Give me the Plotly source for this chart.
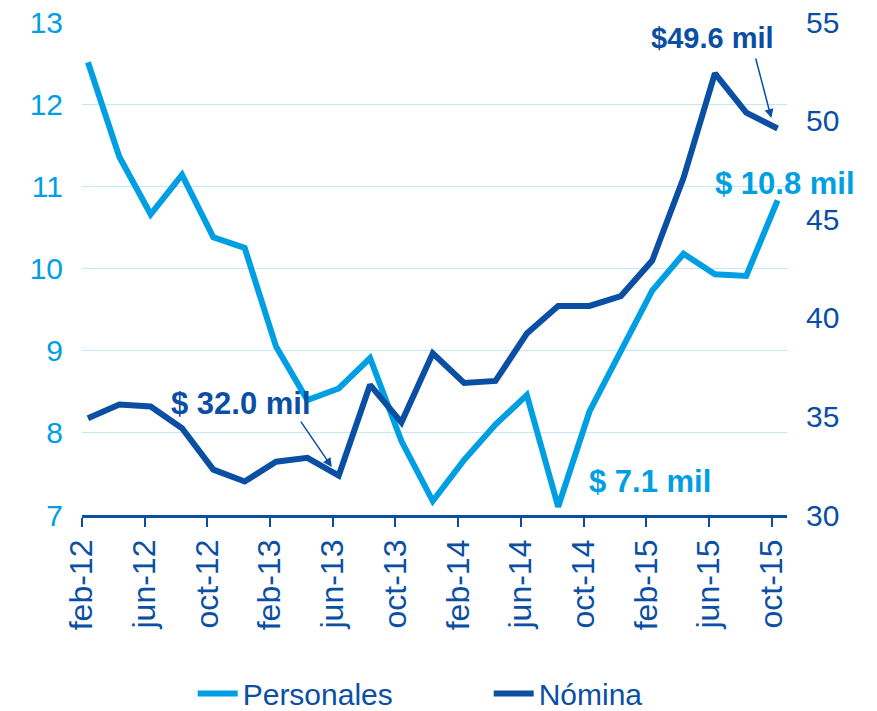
import plotly.graph_objects as go

categories = ["feb-12", "abr-12", "jun-12", "ago-12", "oct-12", "dic-12",
              "feb-13", "abr-13", "jun-13", "ago-13", "oct-13", "dic-13",
              "feb-14", "abr-14", "jun-14", "ago-14", "oct-14", "dic-14",
              "feb-15", "abr-15", "jun-15", "ago-15", "oct-15"]
personales = [12.51, 11.36, 10.66, 11.14, 10.38, 10.25, 9.05, 8.40, 8.54, 8.91,
              7.90, 7.17, 7.67, 8.10, 8.46, 7.10, 8.26, 8.99, 9.73, 10.18,
              9.93, 9.91, 10.83]
nomina = [34.9, 35.6, 35.5, 34.4, 32.3, 31.7, 32.7, 32.9, 32.0, 36.6,
          34.7, 38.2, 36.7, 36.8, 39.2, 40.6, 40.6, 41.1, 42.9, 47.1,
          52.4, 50.4, 49.6]
tick_labels = ["feb-12", "jun-12", "oct-12", "feb-13", "jun-13", "oct-13",
               "feb-14", "jun-14", "oct-14", "feb-15", "jun-15", "oct-15"]

LIGHT = "#009FE3"
DARK = "#0A4FA3"
GRID = "#C4E8F8"
FONT = "Liberation Sans, Arial, sans-serif"

xs = list(range(len(categories)))
tick_pos = [categories.index(t) - 0.19 for t in tick_labels]

fig = go.Figure()
fig.add_trace(go.Scatter(x=xs, y=personales, name="Personales", mode="lines",
                         line=dict(color=LIGHT, width=6), yaxis="y"))
fig.add_trace(go.Scatter(x=xs, y=nomina, name="Nómina", mode="lines",
                         line=dict(color=DARK, width=6), yaxis="y2"))

lbl = dict(xref="paper", yref="paper", showarrow=False, xanchor="center", yanchor="middle")
annotations = [
    dict(text="<b>$49.6 mil</b>", x=0.894, y=0.968,
         font=dict(size=29, color=DARK, family=FONT), **lbl),
    dict(text="<b>$ 10.8 mil</b>", x=0.997, y=0.673,
         font=dict(size=31, color=LIGHT, family=FONT), **lbl),
    dict(text="<b>$ 32.0 mil</b>", x=0.2255, y=0.227,
         font=dict(size=31, color=DARK, family=FONT), **lbl),
    dict(text="<b>$ 7.1 mil</b>", x=0.806, y=0.067,
         font=dict(size=31, color=LIGHT, family=FONT), **lbl),
    dict(text="", x=21.8, y=50.13, xref="x", yref="y2", ax=-16, ay=-61,
         showarrow=True, arrowhead=2, arrowsize=1.2, arrowwidth=1.5, arrowcolor=DARK),
    dict(text="", x=7.78, y=32.43, xref="x", yref="y2", ax=-32, ay=-47,
         showarrow=True, arrowhead=2, arrowsize=1.2, arrowwidth=1.5, arrowcolor=DARK),
]

fig.update_layout(
    width=877, height=711,
    margin=dict(l=82, r=90, t=22, b=196, autoexpand=False),
    paper_bgcolor="white", plot_bgcolor="white",
    font=dict(family=FONT, size=30, color=DARK),
    showlegend=True,
    legend=dict(orientation="h", x=0.157, xanchor="left", y=-0.362, yanchor="middle",
                font=dict(size=30, color=DARK), itemwidth=40, tracegroupgap=0,
                entrywidth=241, entrywidthmode="pixels", bgcolor="rgba(0,0,0,0)"),
    xaxis=dict(range=[-0.19, 22.3], tickmode="array", tickvals=tick_pos,
               ticktext=tick_labels, tickangle=-90, showgrid=False, zeroline=False,
               showline=True, linecolor=DARK, linewidth=2.5, automargin=False,
               ticks="outside", ticklen=9, tickwidth=2, tickcolor=DARK,
               ticklabeloverflow="allow",
               tickfont=dict(size=32, color=DARK, family=FONT)),
    yaxis=dict(range=[7, 13], dtick=1, showgrid=True, gridcolor=GRID, gridwidth=1,
               zeroline=False, showline=False, ticks="", automargin=False,
               ticklabeloverflow="allow",
               tickfont=dict(size=30, color=LIGHT, family=FONT), ticklabelstandoff=18),
    yaxis2=dict(range=[30, 55], dtick=5, overlaying="y", side="right", showgrid=False,
                zeroline=False, showline=False, ticks="", automargin=False,
                ticklabeloverflow="allow",
                tickfont=dict(size=30, color=DARK, family=FONT), ticklabelstandoff=18),
    annotations=annotations,
)

fig.write_html("out.html", config={"displayModeBar": False},
               post_script="document.body.style.margin='0';")
